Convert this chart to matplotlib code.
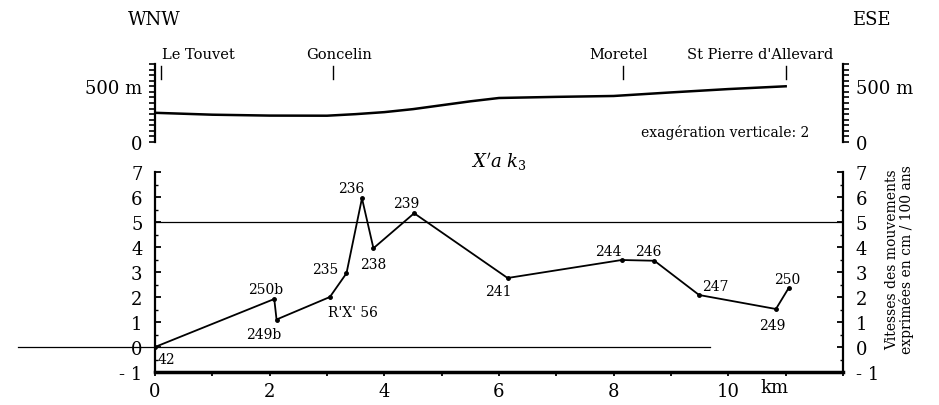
import matplotlib
matplotlib.use("Agg")
import matplotlib.pyplot as plt
from matplotlib.ticker import MultipleLocator

plt.rcParams['font.family'] = 'DejaVu Serif'
plt.rcParams['mathtext.fontset'] = 'dejavuserif'

# ----------------------------------------------------------------------
# data
# ----------------------------------------------------------------------
# velocity profile (cm / 100 years) along the section
point_names = ["42", "250b", "249b", "R'X' 56", "235", "236", "238", "239",
               "241", "244", "246", "247", "249", "250"]
point_km = [0.0, 2.08, 2.12, 3.05, 3.34, 3.61, 3.81, 4.52,
            6.15, 8.14, 8.71, 9.49, 10.83, 11.05]
point_speed = [0.0, 1.92, 1.1, 2.0, 2.95, 5.95, 3.95, 5.35,
               2.76, 3.48, 3.45, 2.08, 1.52, 2.35]

# label positions next to each point (km, speed)
label_km = [0.05, 1.93, 1.89, 3.45, 2.96, 3.43, 3.8, 4.38,
            5.99, 7.91, 8.6, 9.77, 10.76, 11.03]
label_speed = [-0.48, 2.32, 0.52, 1.4, 3.12, 6.35, 3.32, 5.76,
               2.25, 3.85, 3.85, 2.45, 0.89, 2.72]

# topographic profile (km, metres)
topo_km = [0, 1, 2, 3, 3.5, 4, 4.5, 5, 5.5, 6, 7, 8, 9, 10, 11]
topo_m = [262, 245, 237, 236, 250, 268, 295, 330, 365, 395, 405, 413, 445, 475, 500]

# villages along the section (marker position, label centre)
towns = ["Le Touvet", "Goncelin", "Moretel", "St Pierre d'Allevard"]
town_km = [0.1, 3.11, 8.16, 11.0]
town_label_km = [0.75, 3.21, 8.08, 10.55]

x_ticks = [0, 2, 4, 6, 8, 10]
y_ticks = [-1, 0, 1, 2, 3, 4, 5, 6, 7]
y_tick_labels = ["- 1", "0", "1", "2", "3", "4", "5", "6", "7"]

# ----------------------------------------------------------------------
# figure
# ----------------------------------------------------------------------
W, H = 939, 406
fig = plt.figure(figsize=(W / 100, H / 100), dpi=100)

def frac(x0, y0, x1, y1):
    # pixel box (top-left origin) -> figure fraction rect
    return [x0 / W, 1 - y1 / H, (x1 - x0) / W, (y1 - y0) / H]

# ---------------- main velocity axis ----------------
ax = fig.add_axes(frac(155, 173, 843, 373))
ax.set_xlim(0, 12)
ax.set_ylim(-1, 7)

ax.plot(point_km, point_speed, color='black', linewidth=1.3,
        marker='o', markersize=2.5)

for name, lx, ly in zip(point_names, label_km, label_speed):
    ha = 'left' if name == "42" else 'center'
    ax.text(lx, ly, name, fontsize=10, ha=ha, va='center')

# reference lines
ax.plot([0, 12], [5, 5], color='black', linewidth=0.9)
ax.plot([-2.39, 9.68], [0, 0], color='black', linewidth=0.9, clip_on=False)

ax.spines['top'].set_visible(False)
ax.spines['left'].set_linewidth(1.6)
ax.spines['right'].set_linewidth(1.6)
ax.spines['bottom'].set_linewidth(2.5)

ax.set_yticks(y_ticks)
ax.set_yticklabels(y_tick_labels)
ax.yaxis.set_minor_locator(MultipleLocator(0.5))
ax.tick_params(axis='y', which='both', direction='in', left=True, right=True,
               labelleft=True, labelright=True, labelsize=13, pad=9)
ax.tick_params(axis='y', which='major', length=4, width=1.3)
ax.tick_params(axis='y', which='minor', length=2, width=1)

ax.set_xticks(x_ticks)
ax.xaxis.set_minor_locator(MultipleLocator(1))
ax.tick_params(axis='x', which='both', direction='out', length=3, width=1.3,
               labelsize=13, pad=4)
ax.text(10.8, -1.6, "km", fontsize=13, ha='center', va='center')

ax.text(6.0, 7.45, r"$X'a\ k_3$", fontsize=13, ha='center', va='center',
        clip_on=False)

fig.text(900 / W, 1 - 260 / H,
         "Vitesses des mouvements\nexprimées en cm / 100 ans",
         rotation=90, fontsize=10, ha='center', va='center',
         linespacing=1.0)

# ---------------- topographic profile axis ----------------
ax2 = fig.add_axes(frac(155, 65, 843, 143))
ax2.set_xlim(0, 12)
ax2.set_ylim(0, 700)
ax2.patch.set_visible(False)

ax2.plot(topo_km, topo_m, color='black', linewidth=1.8)

for name, xk, lk in zip(towns, town_km, town_label_km):
    ax2.plot([xk, xk], [565, 682], color='black', linewidth=1.0)
    ax2.text(lk, 725, name, fontsize=10.5, ha='center', va='bottom',
             clip_on=False)

for side in ['top', 'bottom']:
    ax2.spines[side].set_visible(False)
ax2.spines['left'].set_linewidth(1.6)
ax2.spines['right'].set_linewidth(1.6)
ax2.set_xticks([])
ax2.set_yticks([0, 500])
ax2.set_yticklabels(["0", "500 m"])
ax2.yaxis.set_minor_locator(MultipleLocator(50))
ax2.tick_params(axis='y', which='both', direction='out', left=True, right=True,
                labelleft=True, labelright=True, labelsize=13, pad=5)
ax2.tick_params(axis='y', which='major', length=4, width=1.2)
ax2.tick_params(axis='y', which='minor', length=4, width=1.2)

ax2.text(9.95, 95, "exagération verticale: 2", fontsize=10,
         ha='center', va='center')

fig.text(154 / W, 1 - 20 / H, "WNW", fontsize=13, ha='center', va='center')
fig.text(871 / W, 1 - 20 / H, "ESE", fontsize=13, ha='center', va='center')

fig.savefig("out.png", dpi=100, facecolor='white')
